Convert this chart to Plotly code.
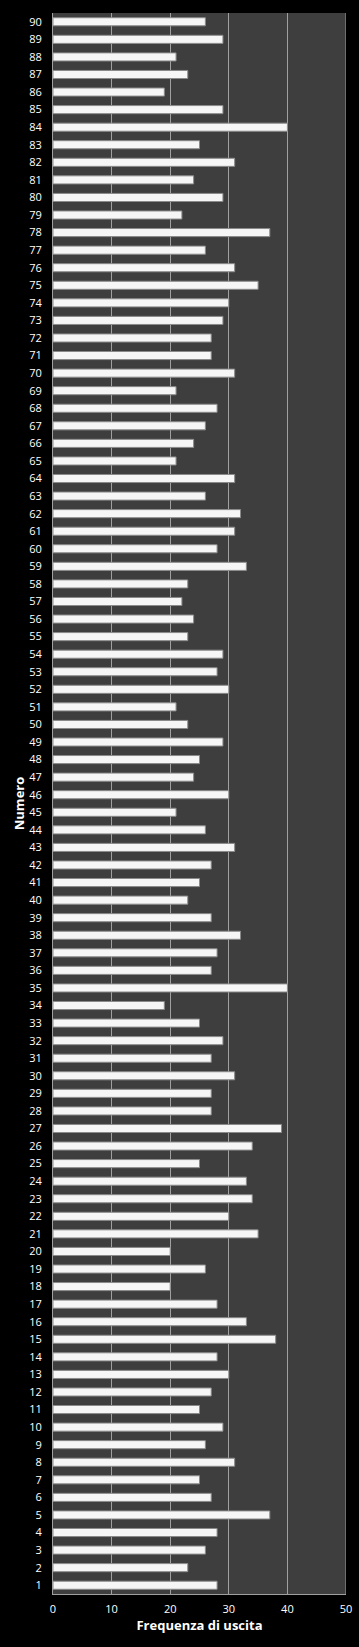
import plotly.graph_objects as go

numbers = list(range(1, 91))
frequencies = [
    28, 23, 26, 28, 37, 27, 25, 31, 26, 29,   # 1-10
    25, 27, 30, 28, 38, 33, 28, 20, 26, 20,   # 11-20
    35, 30, 34, 33, 25, 34, 39, 27, 27, 31,   # 21-30
    27, 29, 25, 19, 40, 27, 28, 32, 27, 23,   # 31-40
    25, 27, 31, 26, 21, 30, 24, 25, 29, 23,   # 41-50
    21, 30, 28, 29, 23, 24, 22, 23, 33, 28,   # 51-60
    31, 32, 26, 31, 21, 24, 26, 28, 21, 31,   # 61-70
    27, 27, 29, 30, 35, 31, 26, 37, 22, 29,   # 71-80
    24, 31, 25, 40, 29, 19, 23, 21, 29, 26,   # 81-90
]
x_ticks = [0, 10, 20, 30, 40, 50]

fig = go.Figure()
fig.add_trace(go.Bar(
    x=frequencies,
    y=numbers,
    orientation="h",
    marker=dict(color="#f6f6f6", line=dict(color="#8a8a8a", width=1)),
    width=0.46,
))

font = "'Open Sans', Lato, sans-serif"
fig.update_layout(
    width=359, height=1647,
    margin=dict(l=53, r=13, t=13, b=53),
    paper_bgcolor="#000000",
    plot_bgcolor="#3e3e3e",
    showlegend=False,
    font=dict(family=font, color="#ffffff", size=11),
    xaxis=dict(
        range=[0, 50], tickvals=x_ticks, ticktext=[str(v) for v in x_ticks],
        showgrid=True, gridcolor="#a0a0a0", gridwidth=1,
        zeroline=False, showline=True, linecolor="#a0a0a0", mirror=False,
        ticks="", ticklabelstandoff=5, automargin=False,
        title=dict(text="<b>Frequenza di uscita</b>", font=dict(size=13, color="#ffffff"), standoff=4),
        fixedrange=True,
    ),
    yaxis=dict(
        range=[0.5, 90.5], tickmode="array", tickvals=numbers,
        ticktext=[str(n) for n in numbers],
        showgrid=False, zeroline=False, showline=True, linecolor="#a0a0a0",
        ticks="", ticklabelstandoff=8, automargin=False,
        title=dict(text="<b>Numero</b>", font=dict(size=13, color="#ffffff"), standoff=1),
        fixedrange=True,
    ),
)
fig.add_shape(type="line", xref="x", yref="paper", x0=50, x1=50, y0=0, y1=1,
              line=dict(color="#a0a0a0", width=1))

fig.write_html("out.html")
